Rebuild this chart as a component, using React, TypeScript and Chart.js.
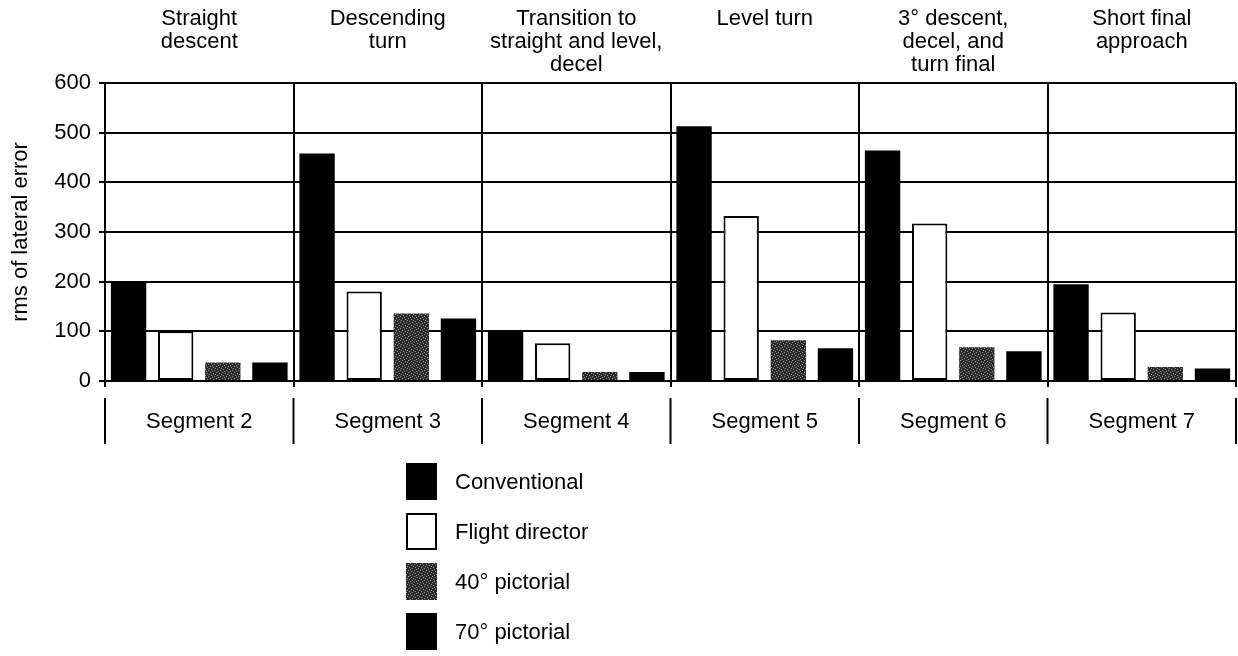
import React, { useEffect, useRef } from 'react';
import { Chart, registerables } from 'chart.js';

Chart.register(...registerables);

const categories = ['Segment 2', 'Segment 3', 'Segment 4', 'Segment 5', 'Segment 6', 'Segment 7'];
const phaseTitles = [
  ['Straight', 'descent'],
  ['Descending', 'turn'],
  ['Transition to', 'straight and level,', 'decel'],
  ['Level turn'],
  ['3\u00b0 descent,', 'decel, and', 'turn final'],
  ['Short final', 'approach'],
];
const seriesNames = ['Conventional', 'Flight director', '40\u00b0 pictorial', '70\u00b0 pictorial'];
const conventional = [200, 458, 102, 513, 464, 195];
const flightDirector = [100, 180, 76, 332, 317, 138];
const pictorial40 = [37, 136, 18, 82, 68, 28];
const pictorial70 = [37, 126, 18, 66, 60, 25];
const yMin = 0;
const yMax = 600;
const yStep = 100;
const yTitle = 'rms of lateral error';

const FONT = "'Liberation Sans', Arial, Helvetica, sans-serif";
const FS = 22;

function makeStipple(): CanvasPattern | string {
  const c = document.createElement('canvas');
  c.width = 6;
  c.height = 6;
  const g = c.getContext('2d');
  if (!g) return '#3a3a3a';
  g.fillStyle = '#2e2e2e';
  g.fillRect(0, 0, 6, 6);
  g.fillStyle = '#8a8a8a';
  const dots = [[0, 0], [3, 1], [1, 3], [4, 4], [2, 5], [5, 2]];
  dots.forEach(([x, y]) => g.fillRect(x, y, 1, 1));
  const p = g.createPattern(c, 'repeat');
  return p || '#3a3a3a';
}

export default function App() {
  const ref = useRef<HTMLCanvasElement | null>(null);

  useEffect(() => {
    const canvas = ref.current;
    if (!canvas) return;
    const stipple = makeStipple();

    const fills: any[] = ['#000000', '#ffffff', stipple, '#000000'];
    const borders = [0, 2, 0, 0];
    const values = [conventional, flightDirector, pictorial40, pictorial70];

    const overlay = {
      id: 'overlay',
      afterDraw(chart: any) {
        const ctx = chart.ctx;
        const xs = chart.scales.x;
        const n = categories.length;
        const half = (xs.getPixelForValue(1) - xs.getPixelForValue(0)) / 2;
        ctx.save();
        ctx.fillStyle = '#000';
        ctx.font = `${FS}px ${FONT}`;
        ctx.textAlign = 'center';
        ctx.textBaseline = 'middle';
        // phase titles
        phaseTitles.forEach((lines, i) => {
          const x = xs.getPixelForValue(i);
          lines.forEach((t, j) => ctx.fillText(t, x, 19 + j * 23));
        });
        // segment labels
        categories.forEach((c, i) => {
          ctx.fillText(c, xs.getPixelForValue(i), 422);
        });
        // separators
        ctx.strokeStyle = '#000';
        ctx.lineWidth = 2;
        for (let i = 0; i <= n; i++) {
          const x = i < n ? xs.getPixelForValue(i) - half : xs.getPixelForValue(n - 1) + half;
          ctx.beginPath();
          ctx.moveTo(x, 398);
          ctx.lineTo(x, 444);
          ctx.stroke();
        }
        // legend
        ctx.textAlign = 'left';
        chart.data.datasets.forEach((ds: any, i: number) => {
          const top = 463 + i * 50;
          const bx = 406;
          const bw = 31;
          const bh = 37;
          ctx.fillStyle = ds.backgroundColor;
          ctx.fillRect(bx, top, bw, bh);
          if (ds.borderWidth) {
            ctx.strokeStyle = '#000';
            ctx.lineWidth = 2;
            ctx.strokeRect(bx + 1, top + 1, bw - 2, bh - 2);
          }
          ctx.fillStyle = '#000';
          ctx.fillText(ds.label, 455, top + bh / 2 + 1);
        });
        ctx.restore();
      },
    };

    const chart = new Chart(canvas, {
      type: 'bar',
      data: {
        labels: categories,
        datasets: seriesNames.map((name, i) => ({
          label: name,
          data: values[i],
          backgroundColor: fills[i],
          borderColor: '#000000',
          borderWidth: borders[i],
          borderSkipped: false,
          categoryPercentage: 1.0,
          barPercentage: 0.75,
        })),
      },
      options: {
        animation: false,
        responsive: false,
        maintainAspectRatio: false,
        layout: { padding: { top: 83, right: 2, bottom: 269, left: 0 } },
        plugins: {
          legend: { display: false },
          tooltip: { enabled: false },
          title: { display: false },
        },
        scales: {
          x: {
            offset: true,
            grid: { offset: true, color: '#000', lineWidth: 2, tickLength: 6, drawTicks: true },
            border: { color: '#000', width: 2 },
            ticks: { display: false },
            afterFit: (s: any) => { s.height = 6; },
          },
          y: {
            min: yMin,
            max: yMax,
            ticks: {
              stepSize: yStep,
              color: '#000',
              font: { family: FONT, size: FS },
              padding: 8,
            },
            grid: { color: '#000', lineWidth: 2, tickLength: 6 },
            border: { color: '#000', width: 2 },
            title: {
              display: true,
              text: yTitle,
              color: '#000',
              font: { family: FONT, size: FS },
              padding: { top: 8, bottom: 0 },
            },
            afterFit: (s: any) => { s.width = 105; },
          },
        },
      },
      plugins: [overlay],
    });
    return () => chart.destroy();
  }, []);

  return (
    <div style={{ position: 'absolute', left: 0, top: 0, width: 1238, height: 656, background: '#fff' }}>
      <canvas ref={ref} width={1238} height={656} />
    </div>
  );
}
